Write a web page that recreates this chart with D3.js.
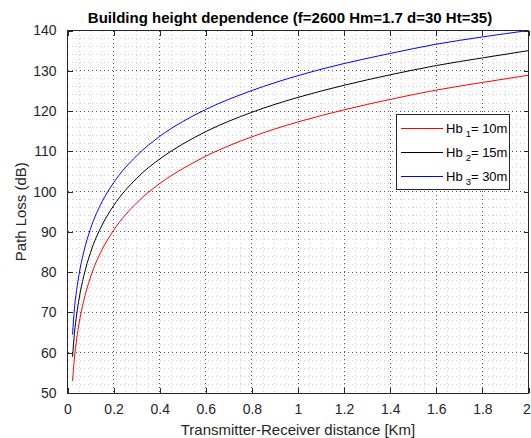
<!DOCTYPE html>
<html>
<head>
<meta charset="utf-8">
<script src="https://cdn.jsdelivr.net/npm/d3@7"></script>
<style>
  html, body { margin: 0; padding: 0; background: #fff; }
  svg { display: block; font-family: "Liberation Sans", Arial, sans-serif; }
</style>
</head>
<body>
<svg id="chart" width="531" height="438"></svg>
<script>
// ---- data ----
const distances = [0.022, 0.03, 0.04, 0.05, 0.07, 0.1, 0.15, 0.2, 0.3, 0.4, 0.5, 0.6, 0.8, 1.0, 1.2, 1.4, 1.6, 1.8, 2.0];
const lossHb10 = [53.0, 58.7, 63.5, 67.2, 72.8, 78.8, 85.6, 90.4, 97.2, 102.0, 105.7, 108.8, 113.6, 117.3, 120.3, 122.9, 125.2, 127.1, 128.9];
const lossHb15 = [59.0, 64.8, 69.6, 73.3, 78.9, 84.9, 91.7, 96.5, 103.3, 108.1, 111.8, 114.9, 119.7, 123.4, 126.4, 129.0, 131.3, 133.2, 135.0];
const lossHb30 = [64.5, 70.9, 75.7, 79.4, 84.9, 90.8, 97.5, 102.2, 108.9, 113.7, 117.4, 120.4, 125.1, 128.8, 131.8, 134.3, 136.6, 138.4, 140.0];
const seriesNames = ["1", "2", "3"];
const seriesValues = ["= 10m", "= 15m", "= 30m"];
const seriesColors = ["#ff0000", "#000000", "#0000ff"];
const xTicks = [0, 0.2, 0.4, 0.6, 0.8, 1, 1.2, 1.4, 1.6, 1.8, 2];
const xTickLabels = ["0", "0.2", "0.4", "0.6", "0.8", "1", "1.2", "1.4", "1.6", "1.8", "2"];
const yTicks = [50, 60, 70, 80, 90, 100, 110, 120, 130, 140];
const titleText = "Building height dependence (f=2600 Hm=1.7 d=30 Ht=35)";
const xLabelText = "Transmitter-Receiver distance [Km]";
const yLabelText = "Path Loss (dB)";

// ---- layout ----
const svg = d3.select("#chart");
const L = 67.5, R = 528.5, T = 30.5, B = 393;
const x = d3.scaleLinear().domain([0, 2]).range([L, R]);
const y = d3.scaleLinear().domain([50, 140]).range([B, T]);

// minor grid
const xMinor = d3.range(0, 2.0001, 0.05).filter(v => Math.abs(v / 0.2 - Math.round(v / 0.2)) > 1e-6);
const yMinor = d3.range(50, 140.001, 2).filter(v => v % 10 !== 0);
const grid = svg.append("g").attr("shape-rendering", "crispEdges");
grid.selectAll(".xm").data(xMinor).enter().append("line")
  .attr("x1", d => x(d)).attr("x2", d => x(d)).attr("y1", T).attr("y2", B)
  .attr("stroke", "#d0d0d0").attr("stroke-width", 1).attr("stroke-dasharray", "1,3");
grid.selectAll(".ym").data(yMinor).enter().append("line")
  .attr("x1", L).attr("x2", R).attr("y1", d => y(d)).attr("y2", d => y(d))
  .attr("stroke", "#d0d0d0").attr("stroke-width", 1).attr("stroke-dasharray", "1,3");
// major grid
grid.selectAll(".xM").data(xTicks.slice(1, -1)).enter().append("line")
  .attr("x1", d => x(d)).attr("x2", d => x(d)).attr("y1", T).attr("y2", B)
  .attr("stroke", "#555").attr("stroke-width", 1).attr("stroke-dasharray", "1,3");
grid.selectAll(".yM").data(yTicks.slice(1, -1)).enter().append("line")
  .attr("x1", L).attr("x2", R).attr("y1", d => y(d)).attr("y2", d => y(d))
  .attr("stroke", "#555").attr("stroke-width", 1).attr("stroke-dasharray", "1,3");

// curves
const allSeries = [lossHb10, lossHb15, lossHb30];
const line = d3.line().x((d, i) => x(distances[i])).y(d => y(d)).curve(d3.curveMonotoneX);
svg.append("defs").append("clipPath").attr("id", "clip")
  .append("rect").attr("x", L).attr("y", T - 1).attr("width", R - L).attr("height", B - T + 1);
svg.append("g").attr("clip-path", "url(#clip)")
  .selectAll("path").data(allSeries).enter().append("path")
  .attr("d", d => line(d)).attr("fill", "none")
  .attr("stroke", (d, i) => seriesColors[i]).attr("stroke-width", 1);

// axes (ticks inward, box on all four sides)
const tickStyle = g => {
  g.select(".domain").remove();
  g.selectAll(".tick line").attr("stroke", "#262626");
  g.selectAll(".tick text").attr("fill", "#262626").attr("font-size", 14)
    .attr("font-family", "Liberation Sans, Arial, sans-serif");
};
const xAxisG = svg.append("g").attr("transform", `translate(0,${B})`)
  .call(d3.axisBottom(x).tickValues(xTicks).tickFormat((d, i) => xTickLabels[i]).tickSizeInner(-5).tickPadding(11))
  .call(tickStyle).attr("shape-rendering", "crispEdges");
// keep the last label ("2") inside the window, as in the reference
xAxisG.selectAll(".tick text").filter(d => d === 2).attr("dx", -2);
svg.append("g").attr("transform", `translate(0,${T})`)
  .call(d3.axisTop(x).tickValues(xTicks).tickFormat("").tickSizeInner(-5))
  .call(tickStyle).attr("shape-rendering", "crispEdges");
svg.append("g").attr("transform", `translate(${L},0)`)
  .call(d3.axisLeft(y).tickValues(yTicks).tickSizeInner(-5).tickPadding(11))
  .call(tickStyle).attr("shape-rendering", "crispEdges");
svg.append("g").attr("transform", `translate(${R},0)`)
  .call(d3.axisRight(y).tickValues(yTicks).tickFormat("").tickSizeInner(-5))
  .call(tickStyle).attr("shape-rendering", "crispEdges");
svg.append("rect").attr("x", L).attr("y", T).attr("width", R - L).attr("height", B - T)
  .attr("fill", "none").attr("stroke", "#262626").attr("stroke-width", 1).attr("shape-rendering", "crispEdges");

// title and labels
svg.append("text").attr("x", 290).attr("y", 23).attr("text-anchor", "middle")
  .attr("font-size", 15).attr("font-weight", "bold").attr("fill", "#000").text(titleText);
svg.append("text").attr("x", (L + R) / 2).attr("y", 435).attr("text-anchor", "middle")
  .attr("font-size", 15).attr("fill", "#262626").text(xLabelText);
svg.append("text").attr("transform", `translate(26,${(T + B) / 2}) rotate(-90)`).attr("text-anchor", "middle")
  .attr("font-size", 15).attr("fill", "#262626").text(yLabelText);

// legend
const lg = svg.append("g");
lg.append("rect").attr("x", 396.5).attr("y", 114.5).attr("width", 113).attr("height", 75)
  .attr("fill", "#fff").attr("stroke", "#262626").attr("stroke-width", 1).attr("shape-rendering", "crispEdges");
const rowY = [128.5, 152.5, 176.5];
seriesColors.forEach((c, i) => {
  lg.append("line").attr("x1", 401).attr("x2", 443).attr("y1", rowY[i]).attr("y2", rowY[i])
    .attr("stroke", c).attr("stroke-width", 1);
  const t = lg.append("text").attr("x", 446).attr("y", rowY[i] + 4.5)
    .attr("font-size", 13).attr("fill", "#000");
  t.append("tspan").text("Hb");
  t.append("tspan").attr("dx", 3).attr("dy", 4).attr("font-size", 9.5).text(seriesNames[i]);
  t.append("tspan").attr("dy", -4).text(seriesValues[i]);
});
</script>
</body>
</html>
